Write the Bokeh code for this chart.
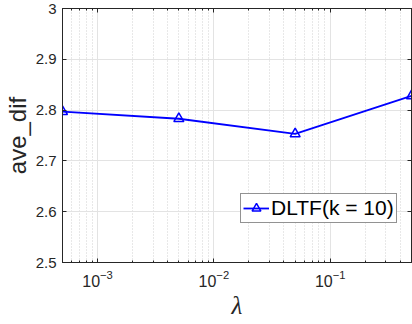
from bokeh.plotting import figure
from bokeh.models import LogAxis, LinearAxis, FixedTicker, Legend, LegendItem, LogTickFormatter
from bokeh.embed import file_html
from bokeh.resources import INLINE

lam = [5e-4, 5e-3, 5e-2, 5e-1]
ave_dif = [2.797, 2.783, 2.753, 2.828]
series_name = "DLTF(k = 10)"
x_ticks = [1e-3, 1e-2, 1e-1]
y_ticks = [2.5, 2.6, 2.7, 2.8, 2.9, 3.0]
y_tick_labels = ["2.5", "2.6", "2.7", "2.8", "2.9", "3"]

minor = [m * 10.0 ** e for e in range(-4, 0) for m in range(2, 10)]
minor = [v for v in minor if 5e-4 <= v <= 0.5]

AX = "#262626"
p = figure(width=412, height=324, x_axis_type="log", x_range=(5e-4, 0.5), y_range=(2.5, 3.0),
           output_backend="svg", toolbar_location=None,
           min_border_left=62, min_border_right=1, min_border_top=8, min_border_bottom=62)
p.background_fill_color = "white"
p.border_fill_color = "white"
p.outline_line_color = AX
p.outline_line_width = 1

xt = FixedTicker(ticks=x_ticks, minor_ticks=minor)
yt = FixedTicker(ticks=y_ticks)

xa = p.xaxis[0]
xa.ticker = xt
xa.formatter = LogTickFormatter(min_exponent=0)
xa.axis_label = "\u03bb"
xa.axis_label_text_font = "Liberation Serif"
xa.axis_label_text_font_style = "italic"
xa.axis_label_text_font_size = "25px"
xa.axis_label_standoff = 2

ya = p.yaxis[0]
ya.ticker = yt
ya.major_label_overrides = {t: l for t, l in zip(y_ticks, y_tick_labels)}
ya.axis_label = "ave_dif"
ya.axis_label_text_font = "Liberation Sans"
ya.axis_label_text_font_style = "normal"
ya.axis_label_text_font_size = "24px"
ya.axis_label_standoff = 2

for ax in [xa, ya]:
    ax.major_label_text_font = "Liberation Sans"
    ax.major_label_text_font_size = "15px"
    ax.major_label_text_color = AX
    ax.axis_label_text_color = AX
    ax.axis_line_color = AX
    ax.major_tick_line_color = AX
    ax.minor_tick_line_color = AX
    ax.major_tick_in = 4
    ax.major_tick_out = 0
    ax.minor_tick_in = 2
    ax.minor_tick_out = 0
xa.major_label_text_font_size = "16px"
xa.major_label_standoff = 7
ya.major_label_standoff = 6

top = LogAxis(ticker=xt, major_label_text_font_size="1px", major_label_text_color=None,
              major_tick_in=4, major_tick_out=0,
              minor_tick_in=2, minor_tick_out=0, axis_line_color=AX, major_tick_line_color=AX,
              minor_tick_line_color=AX, major_label_standoff=0)
right = LinearAxis(ticker=yt, major_label_text_font_size="1px", major_label_text_color=None,
                   major_tick_in=4, major_tick_out=0,
                   minor_tick_in=0, minor_tick_out=0, axis_line_color=AX, major_tick_line_color=AX,
                   major_label_standoff=0)
p.add_layout(top, "above")
p.add_layout(right, "right")

p.xgrid.ticker = xt
p.ygrid.ticker = yt
p.xgrid.grid_line_color = "#e3e3e3"
p.ygrid.grid_line_color = "#e3e3e3"
p.xgrid.minor_grid_line_color = "#d0d0d0"
p.xgrid.minor_grid_line_dash = "1 2"

ln = p.line(lam, ave_dif, line_color="#0000ff", line_width=1.8)
mk = p.scatter(lam, ave_dif, marker="triangle", size=10, line_color="#0000ff", line_width=1.5,
               fill_color=None)

leg = Legend(items=[LegendItem(label=series_name, renderers=[ln, mk])], location=(178, 39))
leg.label_text_font = "Liberation Sans"
leg.label_text_font_size = "21px"
leg.label_text_color = "black"
leg.border_line_color = AX
leg.border_line_width = 1
leg.background_fill_alpha = 1
leg.padding = 2
leg.margin = 0
leg.spacing = 0
leg.glyph_width = 26
leg.glyph_height = 22
leg.label_standoff = 2
leg.label_height = 22
p.add_layout(leg, "center")

open("out.html", "w").write(file_html(p, INLINE))
